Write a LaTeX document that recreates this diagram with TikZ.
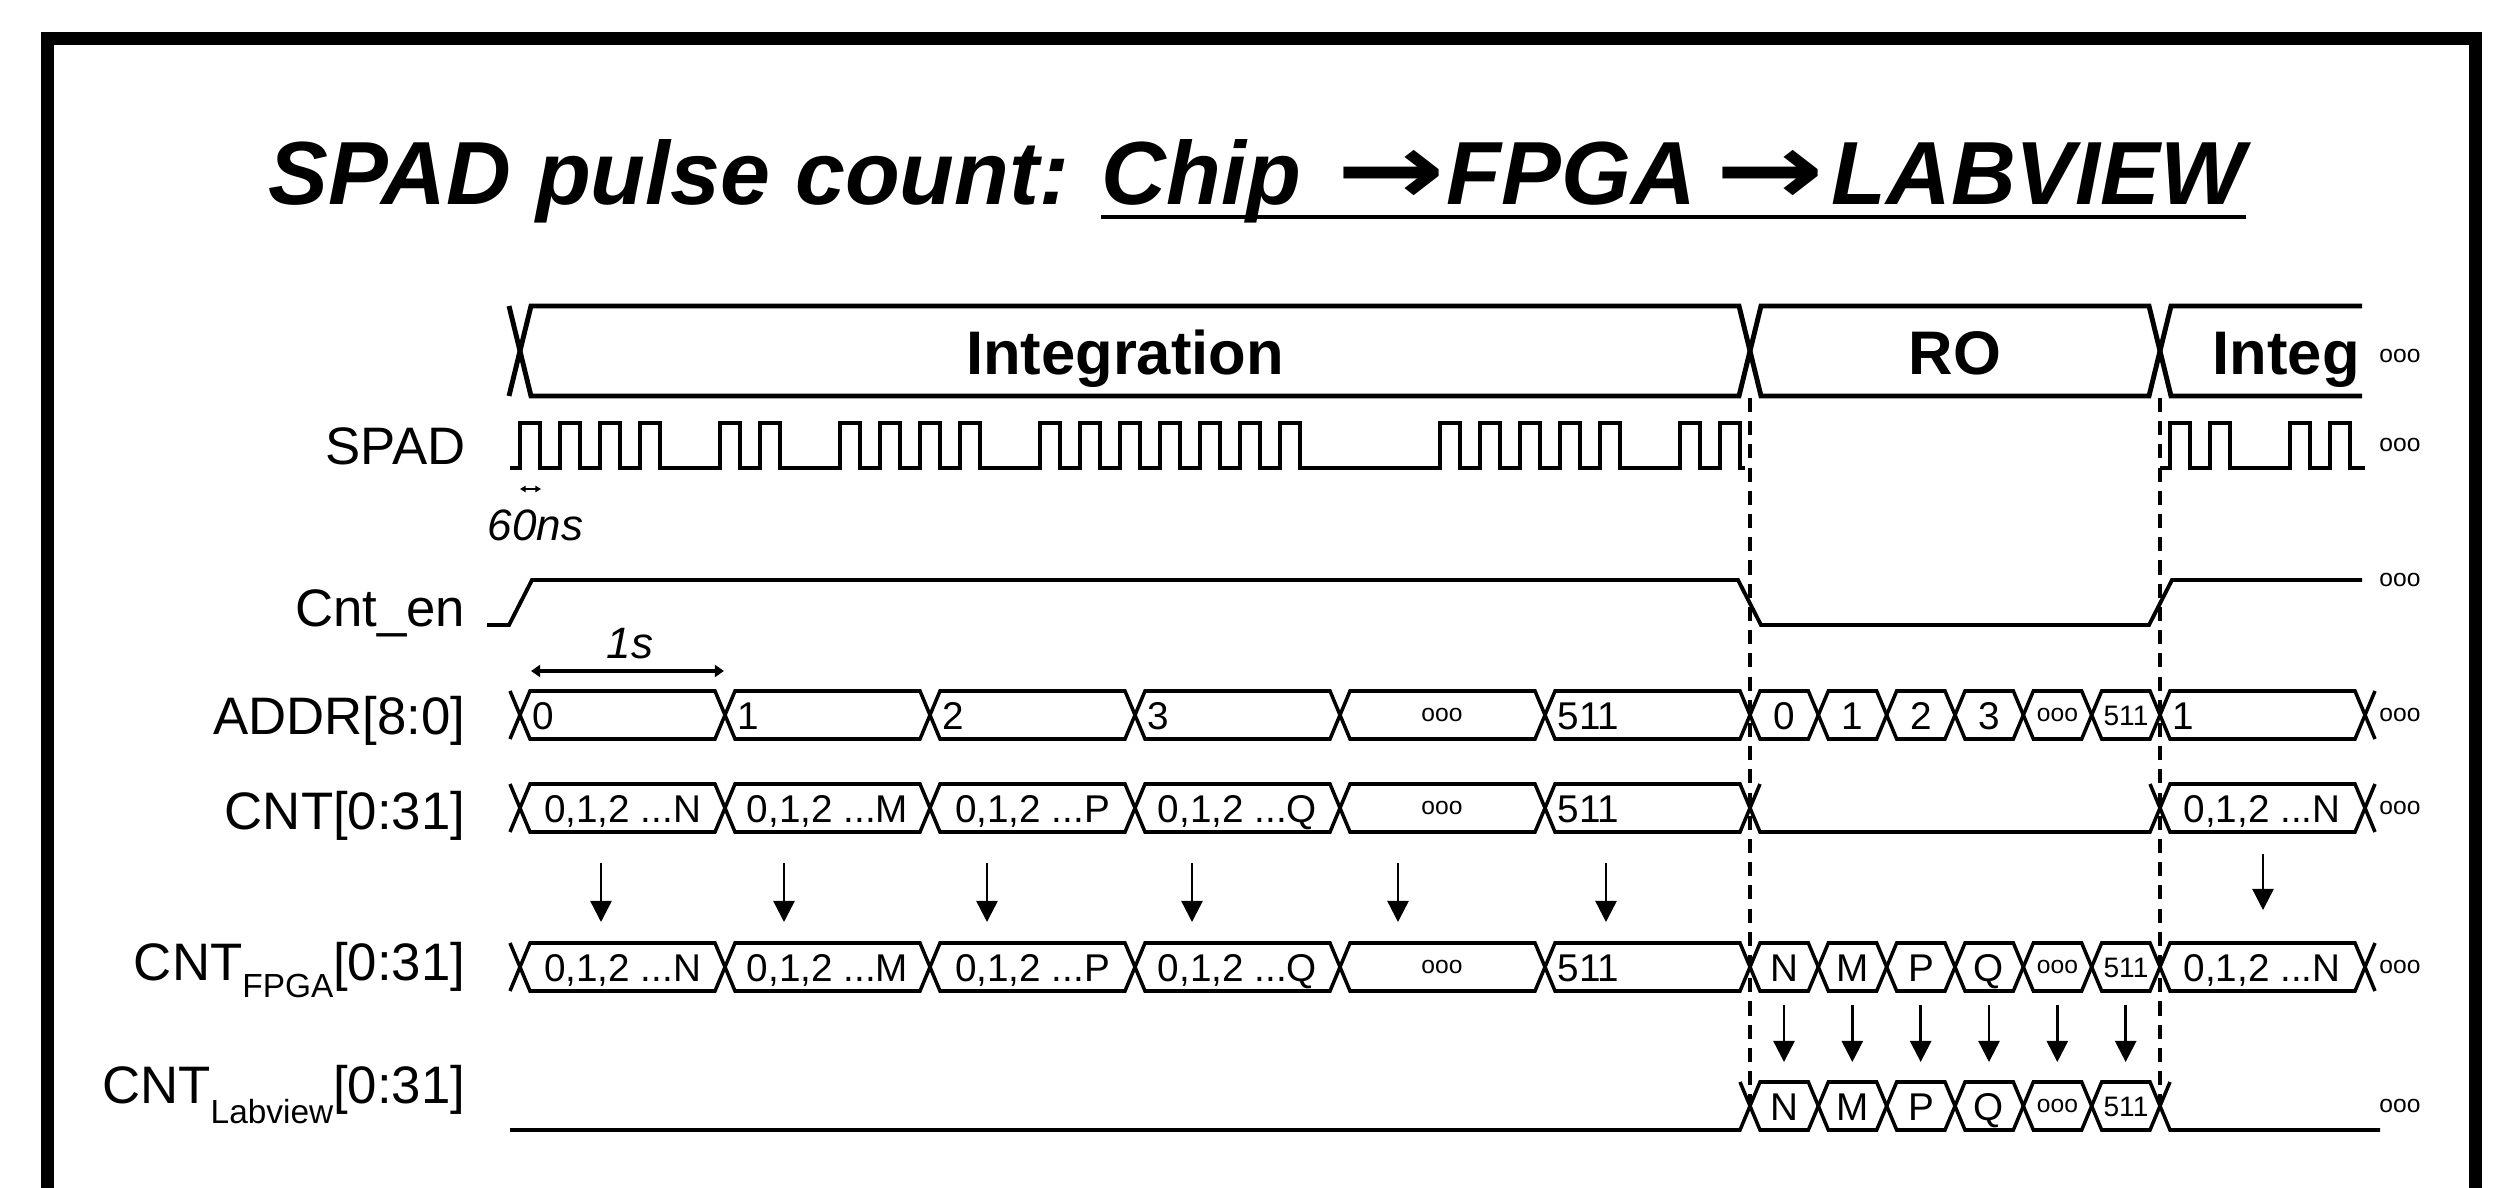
\documentclass[tikz,border=0pt]{standalone}
\usepackage{fontspec}
\usepackage{graphicx}
\setmainfont{Liberation Sans}
\newfontfamily\ttlarrowfont{DejaVu Sans}
\usetikzlibrary{positioning,arrows.meta,calc}
\tikzset{
  frame-line/.style={line width=3.7pt,line cap=butt},
  bus-line/.style={line width=1pt,line join=miter},
  phase-line/.style={line width=1.4pt,line join=miter},
  sig-line/.style={line width=1.1pt,line join=miter},
  ro-guide/.style={line width=0.9pt,dash pattern=on 4pt off 2.6pt},
  arrow-dn/.style={-{Triangle[width=6pt,length=6pt]},line width=0.7pt},
  arrow-span/.style={{Triangle[width=3.4pt,length=2.6pt]}-{Triangle[width=3.4pt,length=2.6pt]},line width=1.1pt},
  arrow-tiny/.style={{Triangle[width=1.8pt,length=1.6pt]}-{Triangle[width=1.8pt,length=1.6pt]},line width=0.6pt},
  title-txt/.style={inner sep=0pt,font=\fontsize{25.5pt}{26pt}\selectfont\bfseries\itshape},
  lbl-row/.style={inner sep=0pt,anchor=base east,font=\fontsize{15pt}{16pt}\selectfont},
  phase-txt/.style={inner sep=0pt,font=\fontsize{17.5pt}{18pt}\selectfont\bfseries},
  seg-txt/.style={inner sep=0pt,font=\fontsize{11pt}{12pt}\selectfont},
  seg-small/.style={inner sep=0pt,font=\fontsize{8pt}{9pt}\selectfont},
  dots-txt/.style={inner sep=0pt,anchor=base,font=\fontsize{7pt}{8pt}\selectfont},
  note-txt/.style={inner sep=0pt,font=\fontsize{12.5pt}{13pt}\selectfont\itshape},
}
% one bus value: x start, x end, row centre
\newcommand{\hexbus}[4][bus-line]{%
  \draw[#1] (#2,#4) -- (#2+10,#4-24) -- (#3-10,#4-24) -- (#3,#4)
    -- (#3-10,#4+24) -- (#2+10,#4+24) -- cycle;}
\newcommand{\ttlarrow}{\scalebox{1.45}[1.12]{\ttlarrowfont →}}

\begin{document}
\begin{tikzpicture}[x=0.01cm,y=-0.01cm]
  \path[use as bounding box,fill=white] (0,0) rectangle (2502,1188);
  \draw[frame-line] (47.5,1188) -- (47.5,38.5) -- (2475.5,38.5) -- (2475.5,1188);

  % title
  \node[title-txt,anchor=base west] (ttl-a) at (268,205) {SPAD pulse count:};
  \node[title-txt,anchor=base west] (ttl-b) at (1101,205)
    {Chip\hspace{0.4em}\ttlarrow\hspace{0.01em}FPGA\hspace{0.22em}\ttlarrow\hspace{0.08em}LABVIEW};
  \draw[line width=1.2pt] ([yshift=-0.12cm]ttl-b.base west) -- ([yshift=-0.12cm]ttl-b.base east);

  % row names
  \node[lbl-row] (lbl-spad) at (466,464) {SPAD};
  \node[lbl-row] (lbl-en)   at (466,626) {Cnt\_en};
  \node[lbl-row] (lbl-addr) at (466,734) {ADDR[8:0]};
  \node[lbl-row] (lbl-cnt)  at (466,829) {CNT[0:31]};
  \node[lbl-row] (lbl-fpga) at (466,980) {CNT\raisebox{-5.1pt}{\fontsize{9.5pt}{10pt}\selectfont FPGA}[0:31]};
  \node[lbl-row] (lbl-lbv)  at (466,1103) {CNT\raisebox{-5.7pt}{\fontsize{9.5pt}{10pt}\selectfont Labview}[0:31]};

  % phases
  \draw[phase-line] (509,306) -- (520,351) -- (509,396);
  \draw[phase-line] (520,351) -- (531,306) -- (1739,306) -- (1750,351) -- (1739,396) -- (531,396) -- cycle;
  \draw[phase-line] (1750,351) -- (1761,306) -- (2149,306) -- (2160,351) -- (2149,396) -- (1761,396) -- cycle;
  \draw[phase-line] (2362,306) -- (2171,306) -- (2160,351) -- (2171,396) -- (2362,396);
  \node[phase-txt,anchor=base] (ph-int) at (1125,375) {Integration};
  \node[phase-txt,anchor=base] (ph-ro) at (1955,375) {RO};
  \node[phase-txt,anchor=base west] (ph-int2) at (2212,375) {Integ};

  % SPAD pulses
  \draw[sig-line] (510,468)
    \foreach \x in {520,560,600,640,720,760,840,880,920,960,1040,1080,1120,1160,
      1200,1240,1280,1440,1480,1520,1560,1600,1680,1720}
      { -- (\x,468) -- (\x,423) -- (\x+20,423) -- (\x+20,468) } -- (1745,468);
  \draw[sig-line] (2160,468)
    \foreach \x in {2170,2210,2290,2330}
      { -- (\x,468) -- (\x,423) -- (\x+20,423) -- (\x+20,468) } -- (2365,468);
  \coordinate (ns-l) at (520,489);
  \coordinate (ns-r) at (541,489);
  \draw[arrow-tiny] (ns-l) -- (ns-r);
  \node[note-txt,anchor=base west] (lbl-60ns) at (487,540) {60ns};

  % counter enable
  \draw[sig-line] (487,625) -- (509,625) -- (532,580) -- (1738,580) -- (1761,625)
    -- (2149,625) -- (2172,580) -- (2362,580);

  % 1s span
  \coordinate (s-l) at (531,671);
  \coordinate (s-r) at (724,671);
  \draw[arrow-span] (s-l) -- (s-r);
  \node[note-txt,anchor=base] (lbl-1s) at (630,658) {1s};

  % buses
  \foreach \yc in {715,808,967} {
    \draw[bus-line] (510,\yc-24) -- (520,\yc) -- (510,\yc+24);
    \foreach \xa/\xb in {520/725,725/930,930/1135,1135/1340,1340/1545,1545/1750}
      \hexbus{\xa}{\xb}{\yc};
    \hexbus{2160}{2365}{\yc};
    \draw[bus-line] (2375,\yc-24) -- (2365,\yc) -- (2375,\yc+24);
  }
  \foreach \yc in {715,967,1106}
    \foreach \k in {0,...,5}
      \hexbus{1750+68.333*\k}{1818.333+68.333*\k}{\yc};
  \draw[bus-line] (1750,808) -- (1760,784);
  \draw[bus-line] (1750,808) -- (1760,832) -- (2150,832) -- (2160,808);
  \draw[bus-line] (2150,784) -- (2160,808);
  \draw[bus-line] (510,1130) -- (1740,1130) -- (1750,1106);
  \draw[bus-line] (1740,1082) -- (1750,1106);
  \draw[bus-line] (2160,1106) -- (2170,1082);
  \draw[bus-line] (2160,1106) -- (2170,1130) -- (2380,1130);

  % ADDR values
  \node[seg-txt,anchor=base west] (addr-0) at (532,729) {0};
  \node[seg-txt,anchor=base west] (addr-1) at (737,729) {1};
  \node[seg-txt,anchor=base west] (addr-2) at (942,729) {2};
  \node[seg-txt,anchor=base west] (addr-3) at (1147,729) {3};
  \node[dots-txt] (addr-d) at (1442,721) {ooo};
  \node[seg-txt,anchor=base west] (addr-511) at (1557,729) {511};
  \node[seg-txt,anchor=base] (addr-r0) at (1784,729) {0};
  \node[seg-txt,anchor=base] (addr-r1) at (1852.5,729) {1};
  \node[seg-txt,anchor=base] (addr-r2) at (1921,729) {2};
  \node[seg-txt,anchor=base] (addr-r3) at (1989,729) {3};
  \node[dots-txt] (addr-rd) at (2057.5,721) {ooo};
  \node[seg-small,anchor=base] (addr-r511) at (2126,725) {511};
  \node[seg-txt,anchor=base west] (addr-1b) at (2172,729) {1};

  % CNT values
  \node[seg-txt,anchor=base] (cnt-n) at (622.5,822) {0,1,2 ...N};
  \node[seg-txt,anchor=base] (cnt-m) at (827.5,822) {0,1,2 ...M};
  \node[seg-txt,anchor=base] (cnt-p) at (1032.5,822) {0,1,2 ...P};
  \node[seg-txt,anchor=base] (cnt-q) at (1237.5,822) {0,1,2 ...Q};
  \node[dots-txt] (cnt-d) at (1442,814) {ooo};
  \node[seg-txt,anchor=base west] (cnt-511) at (1557,822) {511};
  \node[seg-txt,anchor=base] (cnt-n2) at (2262,822) {0,1,2 ...N};

  % CNT_FPGA values
  \node[seg-txt,anchor=base] (fpga-n) at (622.5,981) {0,1,2 ...N};
  \node[seg-txt,anchor=base] (fpga-m) at (827.5,981) {0,1,2 ...M};
  \node[seg-txt,anchor=base] (fpga-p) at (1032.5,981) {0,1,2 ...P};
  \node[seg-txt,anchor=base] (fpga-q) at (1237.5,981) {0,1,2 ...Q};
  \node[dots-txt] (fpga-d) at (1442,973) {ooo};
  \node[seg-txt,anchor=base west] (fpga-511) at (1557,981) {511};
  \node[seg-txt,anchor=base] (fpga-rn) at (1784,981) {N};
  \node[seg-txt,anchor=base] (fpga-rm) at (1852.5,981) {M};
  \node[seg-txt,anchor=base] (fpga-rp) at (1921,981) {P};
  \node[seg-txt,anchor=base] (fpga-rq) at (1989,981) {Q};
  \node[dots-txt] (fpga-rd) at (2057.5,973) {ooo};
  \node[seg-small,anchor=base] (fpga-r511) at (2126,977) {511};
  \node[seg-txt,anchor=base] (fpga-n2) at (2262,981) {0,1,2 ...N};

  % CNT_Labview values
  \node[seg-txt,anchor=base] (lbv-n) at (1784,1120) {N};
  \node[seg-txt,anchor=base] (lbv-m) at (1852.5,1120) {M};
  \node[seg-txt,anchor=base] (lbv-p) at (1921,1120) {P};
  \node[seg-txt,anchor=base] (lbv-q) at (1989,1120) {Q};
  \node[dots-txt] (lbv-d) at (2057.5,1112) {ooo};
  \node[seg-small,anchor=base] (lbv-511) at (2126,1116) {511};

  % continuation marks
  \foreach \yc/\nm in {357/ph,445/spad,580/en,715/addr,808/cnt,967/fpga,1106/lbv}
    \node[dots-txt] (more-\nm) at (2400,\yc+6) {ooo};

  % chip -> FPGA transfers
  \foreach \x [count=\i] in {601,784,987,1192,1398,1606} {
    \coordinate (up-\i) at (\x,863);
    \coordinate (dn-\i) at (\x,922);
    \draw[arrow-dn] (up-\i) -- (dn-\i);
  }
  \coordinate (up-7) at (2263,854);
  \coordinate (dn-7) at (2263,910);
  \draw[arrow-dn] (up-7) -- (dn-7);

  % FPGA -> LABVIEW transfers
  \foreach \k in {0,...,5} {
    \coordinate (ro-up-\k) at (1784+68.333*\k,1005);
    \coordinate (ro-dn-\k) at (1784+68.333*\k,1062);
    \draw[arrow-dn] (ro-up-\k) -- (ro-dn-\k);
  }

  % readout window
  \coordinate (ro-a1) at (1750,398);
  \coordinate (ro-a2) at (1750,1106);
  \coordinate (ro-b1) at (2160,398);
  \coordinate (ro-b2) at (2160,1106);
  \draw[ro-guide] (ro-a1) -- (ro-a2);
  \draw[ro-guide] (ro-b1) -- (ro-b2);
\end{tikzpicture}
\end{document}
